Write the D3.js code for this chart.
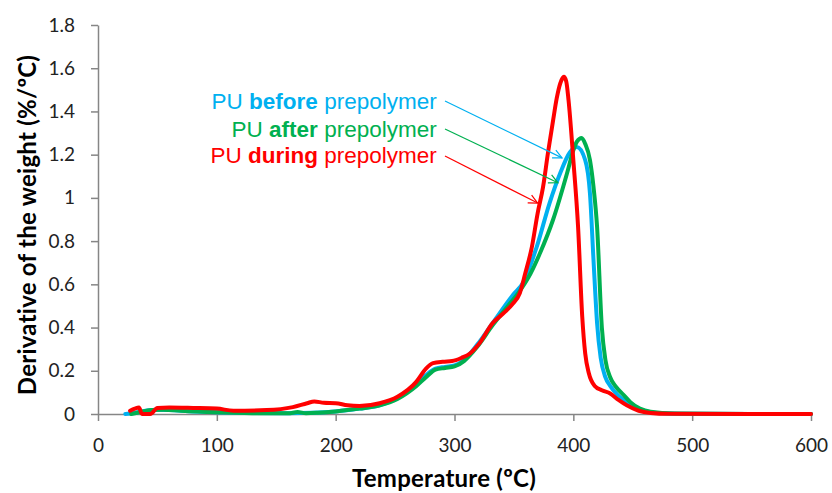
<!DOCTYPE html>
<html>
<head>
<meta charset="utf-8">
<script src="https://cdn.jsdelivr.net/npm/d3@7"></script>
<style>
  body { margin: 0; background: #fff; }
  .tick text { font-family: Lato, sans-serif; font-size: 19px; fill: #222; }
  .axis-title { font-family: Lato, sans-serif; font-weight: bold; font-size: 24px; fill: #000; letter-spacing: 0.25px; }
  .note { font-family: "Liberation Sans", Arial, sans-serif; font-size: 22.5px; }
</style>
</head>
<body>
<svg id="chart" width="832" height="493"></svg>
<script>
// DTG curves, temperature (ºC) vs derivative of weight (%/ºC)
const tempBefore = [23, 30, 40, 50, 60, 80, 100, 130, 160, 180, 200, 220, 237, 252, 268, 276, 284, 292, 300, 308, 319, 332, 349, 358, 369, 380, 389, 397, 403, 410, 414, 417, 420, 423, 427, 431, 437, 445, 452, 460, 470, 490, 550, 600];
const valBefore = [0, 0.005, 0.015, 0.02, 0.018, 0.012, 0.008, 0.005, 0.004, 0.006, 0.012, 0.025, 0.04, 0.075, 0.14, 0.18, 0.21, 0.218, 0.225, 0.25, 0.32, 0.42, 0.55, 0.61, 0.77, 0.976, 1.115, 1.21, 1.235, 1.175, 1.02, 0.71, 0.42, 0.26, 0.17, 0.13, 0.09, 0.055, 0.03, 0.014, 0.005, 0.001, 0, 0];

const tempAfter = [28, 35, 45, 55, 70, 100, 130, 160, 168, 175, 185, 200, 220, 237, 252, 268, 276, 284, 292, 300, 308, 319, 332, 345, 355, 364, 372, 383, 395, 400, 403, 407, 410, 414, 417, 420, 424, 427, 431, 436, 442, 448, 456, 465, 485, 550, 600];
const valAfter = [0, 0.008, 0.018, 0.02, 0.015, 0.008, 0.004, 0.003, 0.009, 0.004, 0.006, 0.012, 0.025, 0.04, 0.07, 0.13, 0.17, 0.205, 0.213, 0.22, 0.245, 0.31, 0.41, 0.5, 0.57, 0.65, 0.745, 0.9, 1.12, 1.22, 1.26, 1.277, 1.25, 1.175, 1.05, 0.865, 0.40, 0.25, 0.17, 0.125, 0.09, 0.055, 0.025, 0.01, 0.002, 0, 0];

const tempDuring = [27, 31, 34.5, 37, 44, 50, 60, 80, 100, 114, 142, 164, 176, 182, 190, 200, 210, 220, 237, 252, 268, 276, 282, 290, 298, 306, 313, 320, 332, 342, 349, 355, 359.5, 365, 370, 374.5, 378.7, 383, 386, 389, 392, 394, 396, 400, 404, 407.5, 410, 413, 418, 424, 431, 438, 445, 455, 465, 480, 550, 600];
const valDuring = [0.015, 0.025, 0.03, 0, 0, 0.028, 0.03, 0.028, 0.025, 0.015, 0.018, 0.032, 0.05, 0.058, 0.052, 0.05, 0.04, 0.037, 0.05, 0.08, 0.15, 0.21, 0.235, 0.242, 0.245, 0.26, 0.28, 0.32, 0.42, 0.47, 0.51, 0.56, 0.65, 0.77, 0.93, 1.05, 1.21, 1.36, 1.46, 1.53, 1.56, 1.54, 1.45, 1.175, 0.865, 0.45, 0.28, 0.19, 0.13, 0.11, 0.095, 0.065, 0.04, 0.015, 0.005, 0.001, 0, 0];

const xTicks = [0, 100, 200, 300, 400, 500, 600];
const yTicks = [0, 0.2, 0.4, 0.6, 0.8, 1, 1.2, 1.4, 1.6, 1.8];

// annotation: label (end of text) and arrow start/tip, in data units
const noteWords = [['PU ', 'before', ' prepolymer'], ['PU ', 'after', ' prepolymer'], ['PU ', 'during', ' prepolymer']];
const noteLabelY = [1.411, 1.282, 1.162];
const noteFrom = [[292, 1.448], [292, 1.319], [292, 1.194]];
const noteTo = [[390.5, 1.185], [387, 1.07], [370, 0.976]];

const colors = ['#00b0f0', '#00b050', '#ff0000'];

const series = [
  { name: 'before', t: tempBefore, v: valBefore },
  { name: 'after', t: tempAfter, v: valAfter },
  { name: 'during', t: tempDuring, v: valDuring }
];

const svg = d3.select('#chart');
const x = d3.scaleLinear().domain([0, 600]).range([98, 811]);
const y = d3.scaleLinear().domain([0, 1.8]).range([414, 25]);

// axes
const xAxis = svg.append('g')
  .attr('transform', `translate(0,${y(0)})`)
  .call(d3.axisBottom(x).tickValues(xTicks).tickSize(7).tickSizeOuter(0).tickPadding(18));
const yAxis = svg.append('g')
  .attr('transform', `translate(${x(0)},0)`)
  .call(d3.axisLeft(y).tickValues(yTicks).tickSize(7).tickSizeOuter(0).tickPadding(16).tickFormat(d3.format('~g')));
[xAxis, yAxis].forEach((g) => {
  g.selectAll('path.domain').attr('stroke', '#868686').attr('stroke-width', 1.5);
  g.selectAll('.tick line').attr('stroke', '#868686').attr('stroke-width', 1.5);
});

svg.append('text')
  .attr('class', 'axis-title')
  .attr('x', 444).attr('y', 487)
  .attr('text-anchor', 'middle')
  .text('Temperature (ºC)');
svg.append('text')
  .attr('class', 'axis-title')
  .attr('transform', 'translate(36,225) rotate(-90)')
  .attr('text-anchor', 'middle')
  .text('Derivative of the weight (%/ºC)');

// curves
const line = d3.line()
  .x((d) => x(d[0]))
  .y((d) => y(d[1]))
  .curve(d3.curveMonotoneX);

svg.append('g').attr('class', 'curves')
  .selectAll('path')
  .data(series)
  .join('path')
  .attr('d', (s) => line(s.t.map((t, i) => [t, s.v[i]])))
  .attr('fill', 'none')
  .attr('stroke', (s, i) => colors[i])
  .attr('stroke-width', 4)
  .attr('stroke-linejoin', 'round')
  .attr('stroke-linecap', 'round');

// annotations
const notes = svg.append('g').attr('class', 'notes');
noteWords.forEach((words, i) => {
  const t = notes.append('text')
    .attr('class', 'note')
    .attr('x', x(285)).attr('y', y(noteLabelY[i]))
    .attr('text-anchor', 'end')
    .attr('fill', colors[i]);
  words.forEach((w, j) => {
    t.append('tspan').attr('font-weight', j === 1 ? 'bold' : 'normal').text(w);
  });

  const x1 = x(noteFrom[i][0]), y1 = y(noteFrom[i][1]);
  const x2 = x(noteTo[i][0]), y2 = y(noteTo[i][1]);
  notes.append('line')
    .attr('x1', x1).attr('y1', y1).attr('x2', x2).attr('y2', y2)
    .attr('stroke', colors[i]).attr('stroke-width', 1.2);
  const ang = Math.atan2(y2 - y1, x2 - x1);
  const len = 10, spread = 0.45;
  const head = [
    [x2 - len * Math.cos(ang - spread), y2 - len * Math.sin(ang - spread)],
    [x2, y2],
    [x2 - len * Math.cos(ang + spread), y2 - len * Math.sin(ang + spread)]
  ];
  notes.append('path')
    .attr('d', d3.line()(head))
    .attr('fill', 'none')
    .attr('stroke', colors[i]).attr('stroke-width', 1.2);
});
</script>
</body>
</html>
